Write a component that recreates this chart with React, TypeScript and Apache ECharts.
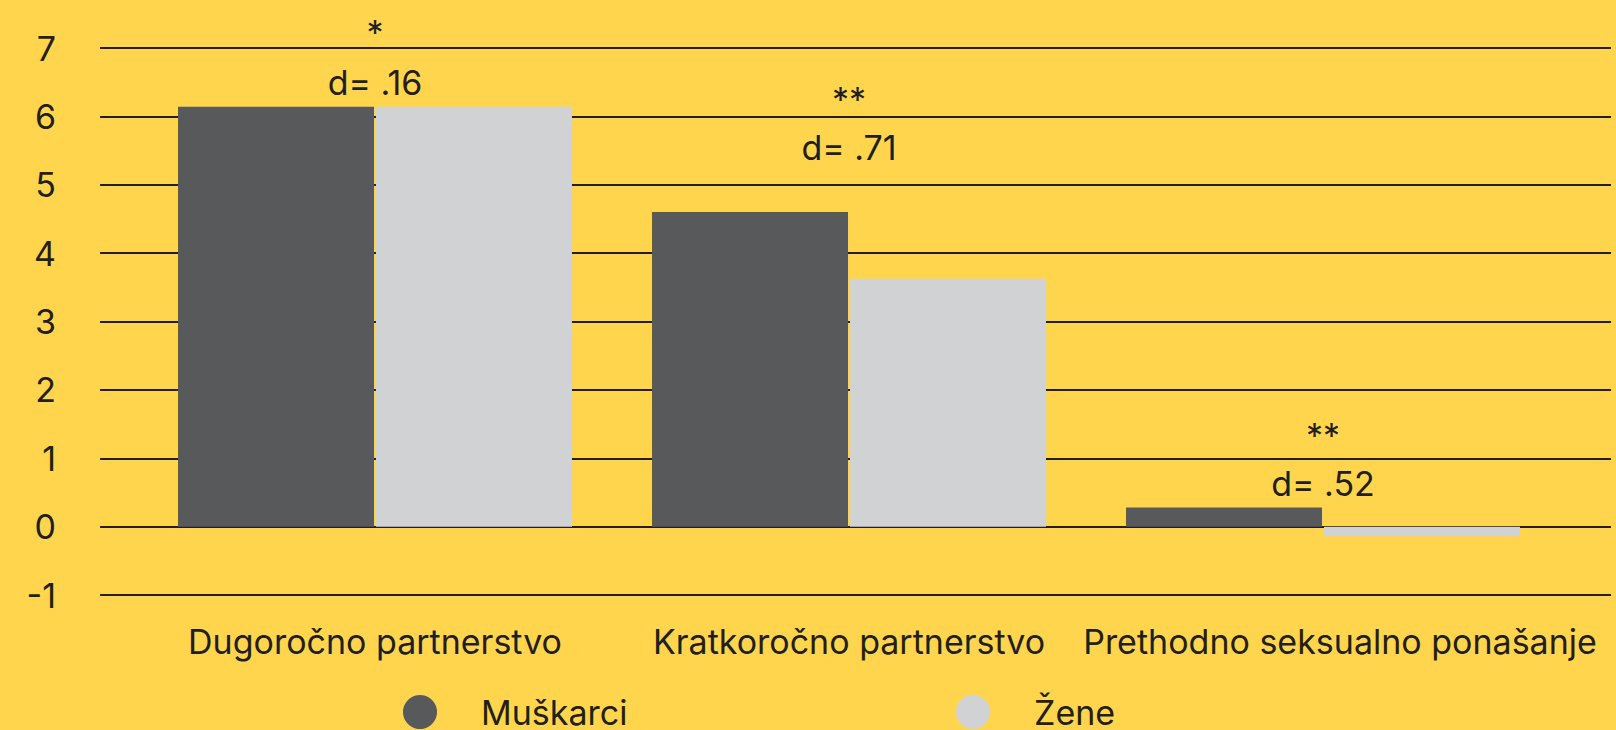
import React, { useEffect, useRef } from "react";
import * as echarts from "echarts";

const categories = ["Dugoročno partnerstvo", "Kratkoročno partnerstvo", "Prethodno seksualno ponašanje"];
const men = [6.14, 4.6, 0.28];
const women = [6.14, 3.62, -0.14];
const starLabels = ["*", "**", "**"];
const starY = [7.22, 6.24, 1.33];
const effectLabels = ["d= .16", "d= .71", "d= .52"];
const effectY = [6.5, 5.55, 0.63];
const seriesNames = ["Muškarci", "Žene"];
const yMin = -1;
const yMax = 7;

const BG = "#FFD54E";
const DARK = "#58595B";
const LIGHT = "#D1D2D4";
const INK = "#231F20";
const FONT = "Inter";

export default function App() {
  const ref = useRef<HTMLDivElement>(null);
  useEffect(() => {
    const chart = echarts.init(ref.current!, undefined, { renderer: "svg" });
    const textStyle = { color: INK, fontFamily: FONT, fontSize: 34 };
    const annot = {
      show: true,
      position: "inside",
      formatter: (p: any) => p.name,
      ...textStyle,
      opacity: 1,
      textBorderWidth: 0,
    };
    const labelShift = [0, 0, 34];
    chart.setOption({
      animation: false,
      backgroundColor: BG,
      textStyle: { fontFamily: FONT },
      grid: [
        { left: 100, right: 5, top: 48, bottom: 135 },
        { left: 138, right: 56, top: 48, bottom: 135 },
      ],
      xAxis: [
        { gridIndex: 0, type: "category", data: categories, show: false },
        {
          gridIndex: 1,
          type: "category",
          data: categories.map((c, i) => ({
            value: c,
            textStyle: { padding: [0, 0, 0, labelShift[i]] },
          })),
          axisLine: { show: false },
          axisTick: { show: false },
          axisLabel: { ...textStyle, margin: 29, interval: 0 },
        },
      ],
      yAxis: [
        {
          gridIndex: 0,
          type: "value",
          min: yMin,
          max: yMax,
          interval: 1,
          axisLine: { show: false },
          axisTick: { show: false },
          axisLabel: { ...textStyle, margin: 44 },
          splitLine: { lineStyle: { color: INK, width: 2 } },
        },
        {
          gridIndex: 1,
          type: "value",
          min: yMin,
          max: yMax,
          interval: 1,
          show: false,
          splitLine: { show: false },
        },
      ],
      legend: [
        {
          data: [seriesNames[0]],
          left: 398,
          top: 690,
          icon: "circle",
          itemWidth: 34,
          itemHeight: 34,
          textStyle: { ...textStyle, lineHeight: 34, padding: [0, 0, 0, 39] },
        },
        {
          data: [seriesNames[1]],
          left: 951,
          top: 690,
          icon: "circle",
          itemWidth: 34,
          itemHeight: 34,
          textStyle: { ...textStyle, lineHeight: 34, padding: [0, 0, 0, 39] },
        },
      ],
      series: [
        {
          name: seriesNames[0],
          type: "bar",
          xAxisIndex: 1,
          yAxisIndex: 1,
          data: men,
          barWidth: 196,
          barGap: "1%",
          itemStyle: { color: DARK },
        },
        {
          name: seriesNames[1],
          type: "bar",
          xAxisIndex: 1,
          yAxisIndex: 1,
          data: women,
          barWidth: 196,
          barGap: "1%",
          itemStyle: { color: LIGHT },
        },
        {
          type: "scatter",
          xAxisIndex: 1,
          yAxisIndex: 1,
          symbolSize: 0,
          silent: true,
          clip: false,
          itemStyle: { opacity: 1 },
          data: categories.map((c, i) => ({ value: [c, starY[i]], name: starLabels[i] })),
          label: annot,
        },
        {
          type: "scatter",
          xAxisIndex: 1,
          yAxisIndex: 1,
          symbolSize: 0,
          silent: true,
          clip: false,
          itemStyle: { opacity: 1 },
          data: categories.map((c, i) => ({ value: [c, effectY[i]], name: effectLabels[i] })),
          label: annot,
        },
      ],
    });
    return () => chart.dispose();
  }, []);
  return <div ref={ref} style={{ position: "fixed", left: 0, top: 0, width: 1616, height: 730 }} />;
}
